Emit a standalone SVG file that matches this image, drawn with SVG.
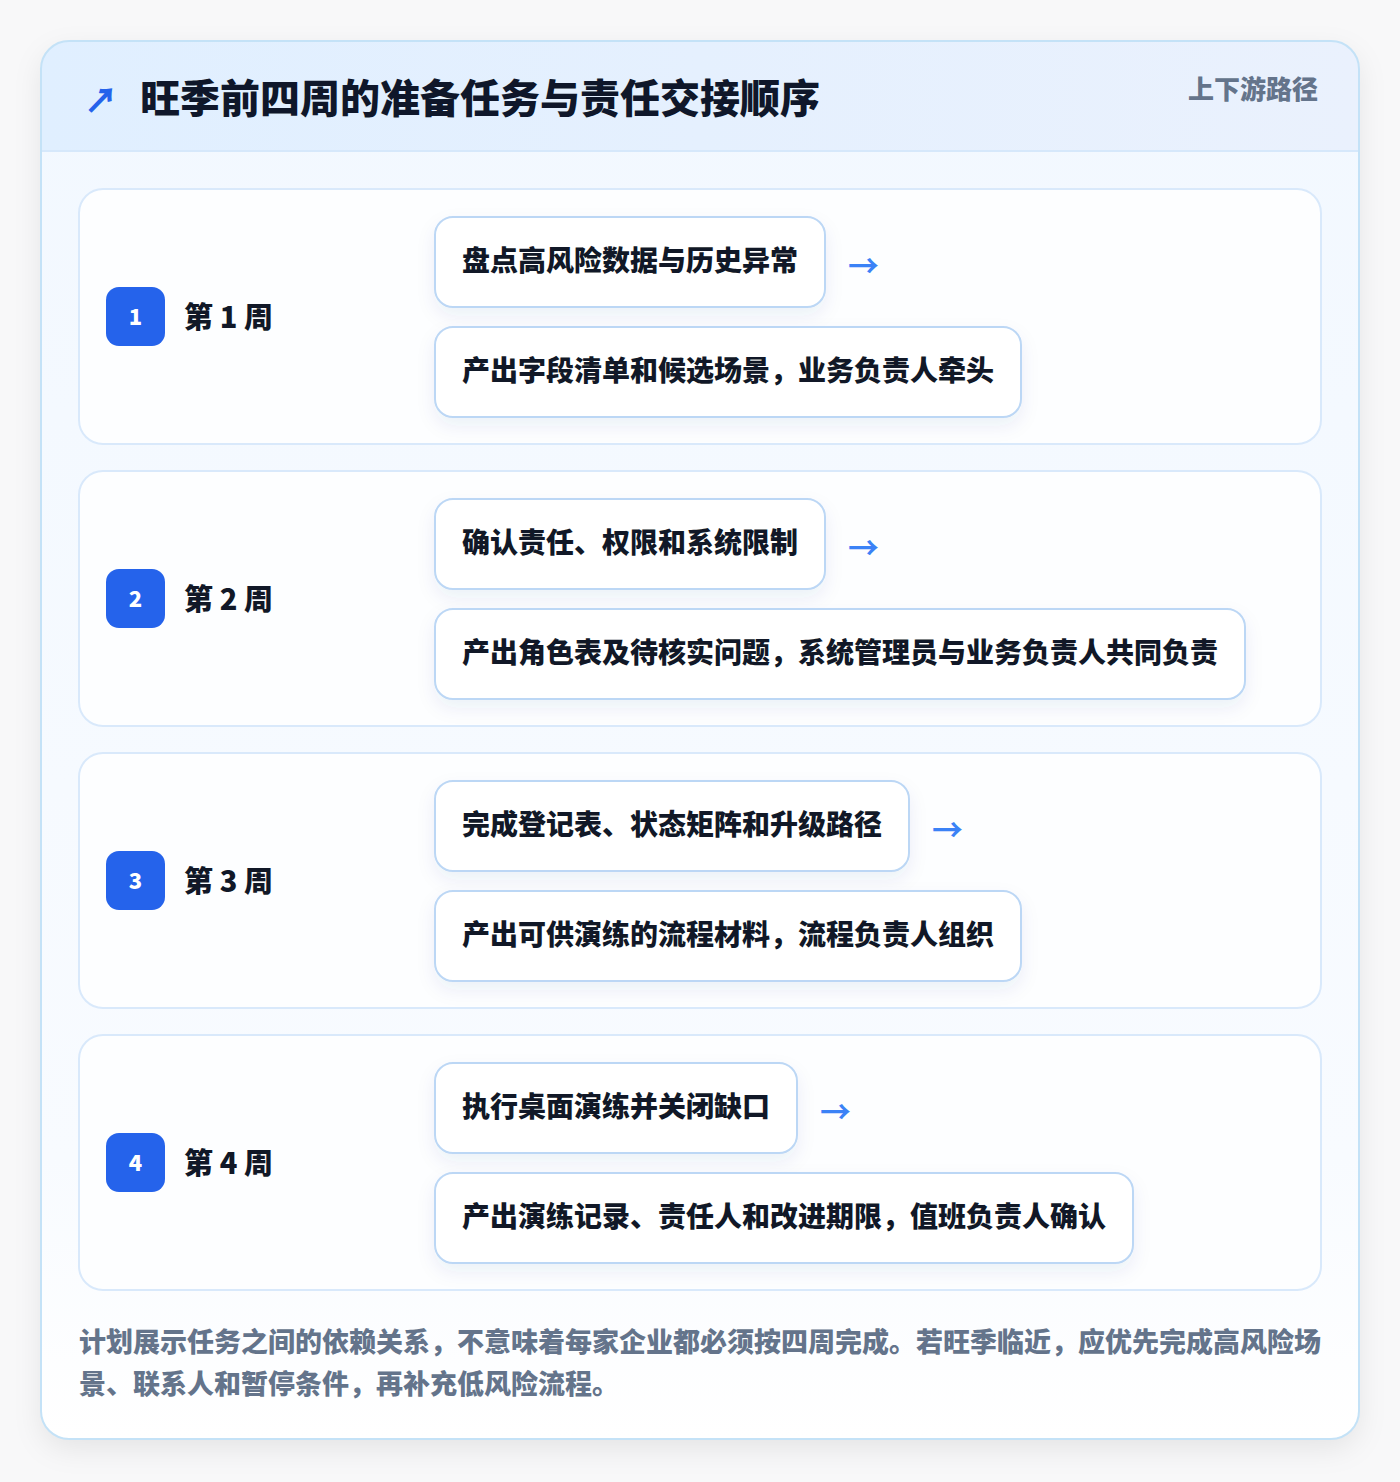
<svg xmlns="http://www.w3.org/2000/svg" width="1400" height="1482" viewBox="0 0 1400 1482">
<defs>
<style>
text{font-family:"Noto Sans CJK SC","Liberation Sans",sans-serif;font-weight:900}
.title{font-size:40px;fill:#0f172a}
.tag{font-size:26px;fill:#64748b}
.week{font-size:29px;fill:#111827}
.num{font-size:22px;fill:#ffffff}
.task{font-size:28px;fill:#111827}
.arrow{font-size:31px;fill:#3b82f6;font-weight:700}
.foot{font-size:27px;fill:#64748b}
.row{fill:#fdfeff;stroke:#d9e9fb;stroke-width:2}
.box{fill:#ffffff;stroke:#bcd7f5;stroke-width:2;filter:url(#bs)}
.badge{fill:#2563eb}
</style>
<linearGradient id="hdr" x1="0" y1="0" x2="1" y2="0">
<stop offset="0" stop-color="#e0efff"/>
<stop offset="1" stop-color="#eaf1fd"/>
</linearGradient>
<linearGradient id="body" x1="0" y1="0" x2="0" y2="1">
<stop offset="0" stop-color="#f2f8ff"/>
<stop offset="0.8" stop-color="#f8fbff"/>
<stop offset="1" stop-color="#ffffff"/>
</linearGradient>
<filter id="cs" x="-10%" y="-10%" width="120%" height="120%">
<feDropShadow dx="0" dy="10" stdDeviation="14" flood-color="#0f172a" flood-opacity="0.08"/>
</filter>
<filter id="bs" x="-10%" y="-30%" width="120%" height="160%">
<feDropShadow dx="0" dy="8" stdDeviation="9" flood-color="#1e3a8a" flood-opacity="0.07"/>
</filter>
<clipPath id="cardclip"><rect x="41" y="41" width="1318" height="1398" rx="28"/></clipPath>
</defs>
<rect width="1400" height="1482" fill="#f8f8f9"/>
<g id="card">
<rect x="41" y="41" width="1318" height="1398" rx="28" fill="#ffffff" filter="url(#cs)"/>
<g clip-path="url(#cardclip)">
<rect x="41" y="41" width="1318" height="1398" fill="url(#body)"/>
<rect x="41" y="41" width="1318" height="110" fill="url(#hdr)"/>
<line x1="41" y1="151" x2="1359" y2="151" stroke="#d6e8fb" stroke-width="2"/>
</g>
<rect x="41" y="41" width="1318" height="1398" rx="28" fill="none" stroke="#c4e2f7" stroke-width="2"/>
</g>
<g id="header">
<text x="84" y="113" style="font-size:34px;fill:#2563eb">↗</text>
<text class="title" x="140" y="113">旺季前四周的准备任务与责任交接顺序</text>
<text class="tag" x="1318" y="99" text-anchor="end">上下游路径</text>
</g>
<g id="week1">
<rect class="row" x="79" y="189" width="1242" height="255" rx="24"/>
<rect class="badge" x="106" y="287" width="59" height="59" rx="13"/>
<text class="num" x="135.5" y="325" text-anchor="middle">1</text>
<text class="week" x="184" y="328">第 1 周</text>
</g>
<g id="task1">
<rect class="box" x="435" y="217" width="390" height="90" rx="18"/>
<text class="task" x="462" y="271">盘点高风险数据与历史异常</text>
</g>
<g id="out1">
<rect class="box" x="435" y="327" width="586" height="90" rx="18"/>
<text class="task" x="462" y="381">产出字段清单和候选场景，业务负责人牵头</text>
</g>
<g id="week2">
<rect class="row" x="79" y="471" width="1242" height="255" rx="24"/>
<rect class="badge" x="106" y="569" width="59" height="59" rx="13"/>
<text class="num" x="135.5" y="607" text-anchor="middle">2</text>
<text class="week" x="184" y="610">第 2 周</text>
</g>
<g id="task2">
<rect class="box" x="435" y="499" width="390" height="90" rx="18"/>
<text class="task" x="462" y="553">确认责任、权限和系统限制</text>
</g>
<g id="out2">
<rect class="box" x="435" y="609" width="810" height="90" rx="18"/>
<text class="task" x="462" y="663">产出角色表及待核实问题，系统管理员与业务负责人共同负责</text>
</g>
<g id="week3">
<rect class="row" x="79" y="753" width="1242" height="255" rx="24"/>
<rect class="badge" x="106" y="851" width="59" height="59" rx="13"/>
<text class="num" x="135.5" y="889" text-anchor="middle">3</text>
<text class="week" x="184" y="892">第 3 周</text>
</g>
<g id="task3">
<rect class="box" x="435" y="781" width="474" height="90" rx="18"/>
<text class="task" x="462" y="835">完成登记表、状态矩阵和升级路径</text>
</g>
<g id="out3">
<rect class="box" x="435" y="891" width="586" height="90" rx="18"/>
<text class="task" x="462" y="945">产出可供演练的流程材料，流程负责人组织</text>
</g>
<g id="week4">
<rect class="row" x="79" y="1035" width="1242" height="255" rx="24"/>
<rect class="badge" x="106" y="1133" width="59" height="59" rx="13"/>
<text class="num" x="135.5" y="1171" text-anchor="middle">4</text>
<text class="week" x="184" y="1174">第 4 周</text>
</g>
<g id="task4">
<rect class="box" x="435" y="1063" width="362" height="90" rx="18"/>
<text class="task" x="462" y="1117">执行桌面演练并关闭缺口</text>
</g>
<g id="out4">
<rect class="box" x="435" y="1173" width="698" height="90" rx="18"/>
<text class="task" x="462" y="1227">产出演练记录、责任人和改进期限，值班负责人确认</text>
</g>
<g id="connectors">
<text class="arrow" x="848" y="277">→</text>
<text class="arrow" x="848" y="559">→</text>
<text class="arrow" x="932" y="841">→</text>
<text class="arrow" x="820" y="1123">→</text>
</g>
<g id="footer">
<text class="foot" x="79" y="1352">计划展示任务之间的依赖关系，不意味着每家企业都必须按四周完成。若旺季临近，应优先完成高风险场</text>
<text class="foot" x="79" y="1394">景、联系人和暂停条件，再补充低风险流程。</text>
</g>
</svg>
